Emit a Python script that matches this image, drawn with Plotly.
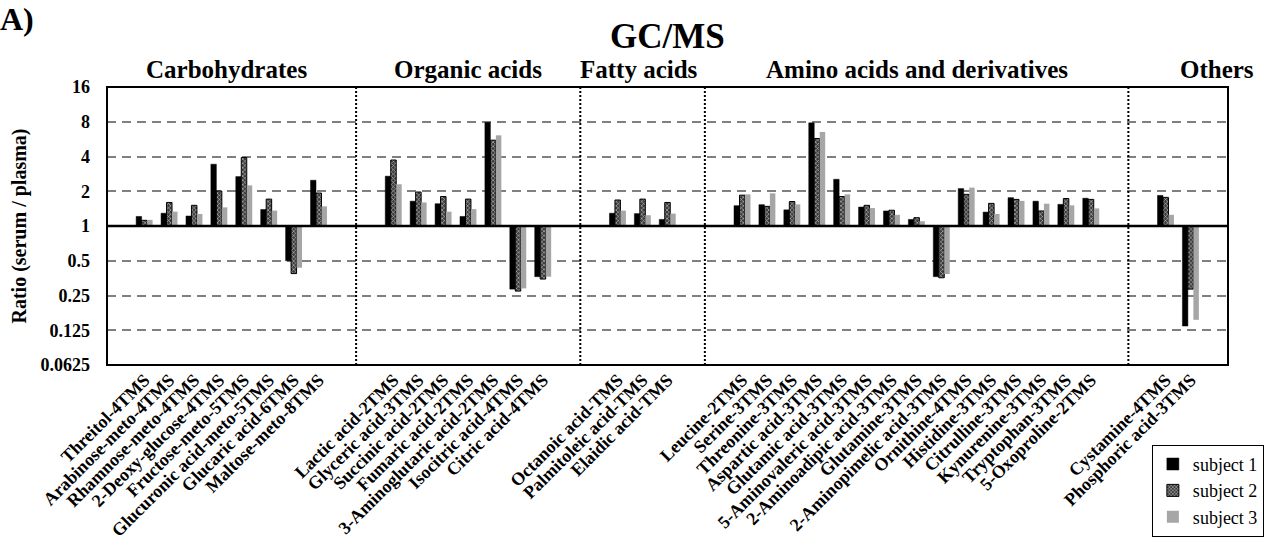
import plotly.graph_objects as go

# Compound classes and their members (plotted left to right)
carbohydrates = ["Threitol-4TMS", "Arabinose-meto-4TMS", "Rhamnose-meto-4TMS",
                 "2-Deoxy-glucose-4TMS", "Fructose-meto-5TMS", "Glucuronic acid-meto-5TMS",
                 "Glucaric acid-6TMS", "Maltose-meto-8TMS"]
organic_acids = ["Lactic acid-2TMS", "Glyceric acid-3TMS", "Succinic acid-2TMS",
                 "Fumaric acid-2TMS", "3-Aminoglutaric acid-2TMS", "Isocitric acid-4TMS",
                 "Citric acid-4TMS"]
fatty_acids = ["Octanoic acid-TMS", "Palmitoleic acid-TMS", "Elaidic acid-TMS"]
amino_acids = ["Leucine-2TMS", "Serine-3TMS", "Threonine-3TMS", "Aspartic acid-3TMS",
               "Glutamic acid-3TMS", "5-Aminovaleric acid-3TMS", "2-Aminoadipic acid-3TMS",
               "Glutamine-3TMS", "2-Aminopimelic acid-3TMS", "Ornithine-4TMS",
               "Histidine-3TMS", "Citrulline-3TMS", "Kynurenine-3TMS", "Tryptophan-3TMS",
               "5-Oxoproline-2TMS"]
others = ["Cystamine-4TMS", "Phosphoric acid-3TMS"]

class_names = ["Carbohydrates", "Organic acids", "Fatty acids",
               "Amino acids and derivatives", "Others"]
class_members = [carbohydrates, organic_acids, fatty_acids, amino_acids, others]

# Serum / plasma ratios per subject, in compound order
subject1 = [1.21, 1.29, 1.22, 3.43, 2.68, 1.39, 0.50, 2.49,
            2.70, 1.64, 1.56, 1.21, 7.90, 0.284, 0.364,
            1.29, 1.28, 1.14,
            1.50, 1.53, 1.38, 7.83, 2.54, 1.46, 1.35, 1.14, 0.364, 2.11,
            1.32, 1.76, 1.64, 1.54, 1.74,
            1.84, 0.136]
subject2 = [1.12, 1.60, 1.51, 2.01, 3.92, 1.71, 0.387, 1.93,
            3.73, 1.97, 1.80, 1.71, 5.54, 0.273, 0.347,
            1.68, 1.71, 1.60,
            1.85, 1.48, 1.63, 5.73, 1.80, 1.51, 1.37, 1.18, 0.356, 1.88,
            1.57, 1.70, 1.35, 1.73, 1.70,
            1.77, 0.284]
subject3 = [1.13, 1.33, 1.27, 1.45, 2.25, 1.36, 0.435, 1.48,
            2.30, 1.60, 1.33, 1.40, 6.10, 0.288, 0.364,
            1.36, 1.24, 1.28,
            1.88, 1.92, 1.54, 6.53, 1.88, 1.43, 1.25, 1.10, 0.384, 2.15,
            1.27, 1.65, 1.56, 1.51, 1.42,
            1.25, 0.154]

ytick_vals = [0.0625, 0.125, 0.25, 0.5, 1, 2, 4, 8, 16]
ytick_text = ["0.0625", "0.125", "0.25", "0.5", "1", "2", "4", "8", "16"]

FONT = "Times New Roman"

# Slot layout: one empty slot on each side of every class block
positions, labels, dividers = [], [], []
slot = 0
for i, members in enumerate(class_members):
    if i > 0:
        dividers.append(slot - 0.5)
    slot += 1
    for name in members:
        positions.append(slot)
        labels.append(name)
        slot += 1
    slot += 1
n_slots = slot

fig = go.Figure()

series = [
    ("subject 1", subject1, dict(color="#000000", line=dict(color="#000000", width=0.5))),
    ("subject 2", subject2, dict(color="#3a3a3a", line=dict(color="#000000", width=1),
                                 pattern=dict(shape="x", fgcolor="#c8c8c8", bgcolor="#3a3a3a",
                                              size=3, solidity=0.35))),
    ("subject 3", subject3, dict(color="#a6a6a6", line=dict(width=0))),
]
for name, vals, marker in series:
    fig.add_trace(go.Bar(
        x=positions,
        y=[v - 1 for v in vals],
        base=[1] * len(vals),
        name=name,
        marker=marker,
        customdata=vals,
        hovertemplate="%{customdata}<extra>" + name + "</extra>",
    ))

shapes = []
# dotted class dividers
for d in dividers:
    shapes.append(dict(type="line", xref="x", yref="paper", x0=d, x1=d, y0=0, y1=1,
                       line=dict(color="black", width=2, dash="2px,2px"), layer="above"))
# ratio = 1 baseline
shapes.append(dict(type="line", xref="paper", yref="y", x0=0, x1=1, y0=1, y1=1,
                   line=dict(color="black", width=2.5), layer="above"))
# frame
shapes.append(dict(type="rect", xref="paper", yref="paper", x0=0, x1=1, y0=0, y1=1,
                   line=dict(color="black", width=2), layer="above"))

annotations = []
edges = [-0.5] + dividers + [n_slots - 0.5]
header_offset = [-0.2, 0.0, -0.15, 0.0, 0.0]
for i, cname in enumerate(class_names):
    cx = (edges[i] + edges[i + 1]) / 2 + header_offset[i]
    if cname == "Others":
        cx = edges[i + 1] - 0.45
    annotations.append(dict(text=cname, x=cx, xref="x", y=1.0, yref="paper",
                            yanchor="bottom", yshift=2, showarrow=False,
                            font=dict(family=FONT, size=25, color="black", weight="bold")))
annotations.append(dict(text="GC/MS", x=0.5, xref="paper", y=1.0, yref="paper",
                        yanchor="bottom", yshift=29, showarrow=False,
                        font=dict(family=FONT, size=35, color="black", weight="bold")))
annotations.append(dict(text="A)", x=0, xref="paper", xshift=-109, xanchor="left",
                        y=1.0, yref="paper", yanchor="bottom", yshift=48, showarrow=False,
                        font=dict(family=FONT, size=32, color="black", weight="bold")))

fig.update_layout(
    template="none",
    width=1276, height=554,
    margin=dict(l=107, r=37, t=87, b=189),
    paper_bgcolor="white", plot_bgcolor="white",
    barmode="group", bargap=0.34, bargroupgap=0,
    font=dict(family=FONT, size=18, color="black"),
    shapes=shapes, annotations=annotations,
    showlegend=True,
    legend=dict(x=1.032, xanchor="right", y=-0.618, yanchor="bottom",
                bordercolor="black", borderwidth=1, bgcolor="white",
                font=dict(family=FONT, size=18, color="black"),
                tracegroupgap=0, itemwidth=30),
)
fig.update_xaxes(
    range=[-0.5, n_slots - 0.5], tickmode="array", tickvals=positions, ticktext=labels,
    tickangle=-45, showgrid=False, zeroline=False, showline=False, ticks="",
    tickfont=dict(family=FONT, size=18, color="black", weight="bold"),
)
fig.update_yaxes(
    type="log", range=[-4 * 0.30103, 4 * 0.30103],
    tickmode="array", tickvals=ytick_vals, ticktext=ytick_text,
    showgrid=True, gridcolor="#808080", gridwidth=2, griddash="9px,6px",
    zeroline=False, showline=False, ticks="", ticklabelstandoff=16,
    tickfont=dict(family=FONT, size=18, color="black", weight="bold"),
    title=dict(text="Ratio (serum / plasma)", standoff=8,
               font=dict(family=FONT, size=20, color="black", weight="bold")),
)

fig.write_html("out.html")
